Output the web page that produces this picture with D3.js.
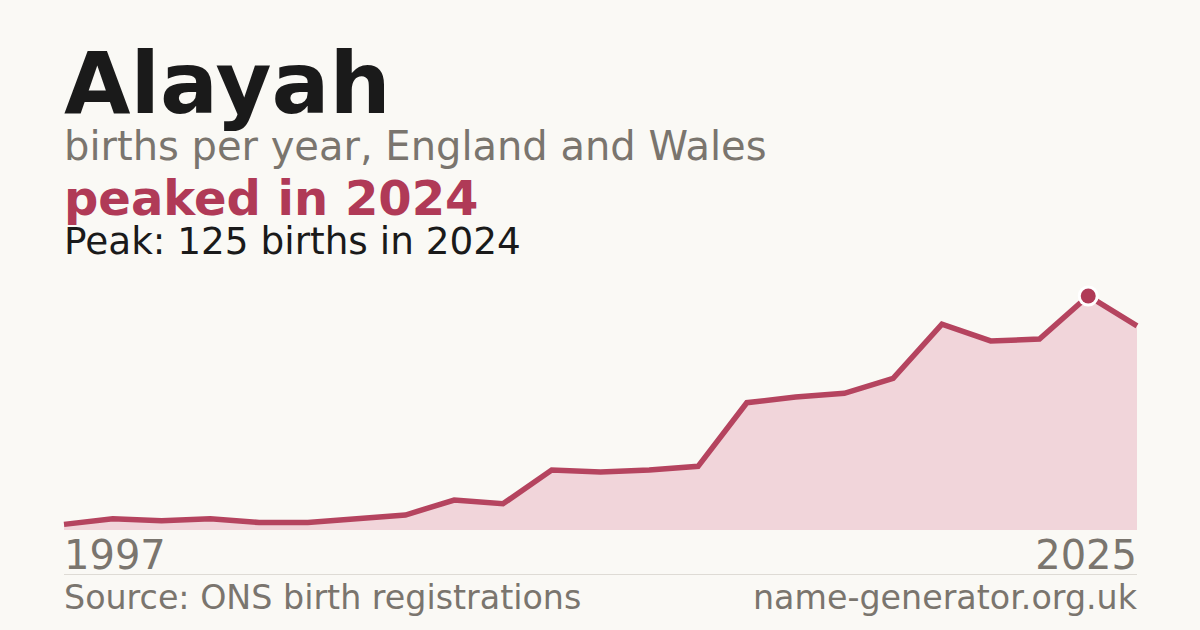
<!DOCTYPE html>
<html>
<head>
<meta charset="utf-8">
<script src="https://cdn.jsdelivr.net/npm/d3@7/dist/d3.min.js"></script>
<style>
    html, body { margin: 0; padding: 0; background: #faf9f5; }
    svg { display: block; font-family: "DejaVu Sans", sans-serif; }
</style>
</head>
<body>
<svg id="chart" width="1200" height="630"></svg>
<script>
var years = [1997, 2004, 2005, 2006, 2007, 2008, 2009, 2010, 2011, 2012, 2013, 2014,
    2015, 2016, 2017, 2018, 2019, 2020, 2021, 2022, 2023, 2024, 2025];
var births = [3, 6, 5, 6, 4, 4, 6, 8, 16, 14, 32, 31,
    32, 34, 68, 71, 73, 81, 110, 101, 102, 125, 109];
var axisLabels = ['1997', '2025'];

var width = 1200;
var height = 630;
var plotLeft = 64;
var plotRight = 1137;
var plotBase = 530;
var plotTop = 296;

var accent = '#b03a57';
var grey = '#7a756e';

var $svg = d3.select('#chart');

$svg.append('rect')
    .attr('width', width)
    .attr('height', height)
    .attr('fill', '#faf9f5');

var data = years.map(function (y, i) {
    return { year: y, value: births[i] };
});

var x = d3.scalePoint()
    .domain(years)
    .range([plotLeft, plotRight]);

var y = d3.scaleLinear()
    .domain([0, d3.max(births)])
    .range([plotBase, plotTop]);

// header text
$svg.append('text')
    .attr('x', plotLeft).attr('y', 113)
    .style('font-size', '86px').style('font-weight', 'bold')
    .attr('fill', '#1a1a1a')
    .text('Alayah');

$svg.append('text')
    .attr('x', plotLeft).attr('y', 160)
    .style('font-size', '40px')
    .attr('fill', grey)
    .text('births per year, England and Wales');

var peak = data.reduce(function (a, b) { return b.value > a.value ? b : a; });

$svg.append('text')
    .attr('x', plotLeft).attr('y', 215)
    .style('font-size', '48px').style('font-weight', 'bold')
    .attr('fill', accent)
    .text('peaked in ' + peak.year);

$svg.append('text')
    .attr('x', plotLeft).attr('y', 254)
    .style('font-size', '37.4px')
    .attr('fill', '#1a1a1a')
    .text('Peak: ' + peak.value + ' births in ' + peak.year);

// area + line
var area = d3.area()
    .x(function (d) { return x(d.year); })
    .y0(plotBase)
    .y1(function (d) { return y(d.value); });

var line = d3.line()
    .x(function (d) { return x(d.year); })
    .y(function (d) { return y(d.value); });

$svg.append('path')
    .datum(data)
    .attr('d', area)
    .attr('fill', '#f1d5da');

$svg.append('path')
    .datum(data)
    .attr('d', line)
    .attr('fill', 'none')
    .attr('stroke', '#b5445f')
    .attr('stroke-width', 5.5)
    .attr('stroke-linejoin', 'miter');

// peak marker, white ring first then the dot
$svg.append('circle')
    .attr('cx', x(peak.year))
    .attr('cy', y(peak.value))
    .attr('r', 10.5)
    .attr('fill', '#ffffff');

$svg.append('circle')
    .attr('cx', x(peak.year))
    .attr('cy', y(peak.value))
    .attr('r', 7.5)
    .attr('fill', accent);

// axis labels, first and last year only
$svg.selectAll('.year-label')
    .data(axisLabels)
    .enter()
    .append('text')
    .classed('year-label', true)
    .attr('x', function (d, i) { return i === 0 ? plotLeft : plotRight; })
    .attr('y', 569)
    .style('font-size', '40px')
    .style('text-anchor', function (d, i) { return i === 0 ? 'start' : 'end'; })
    .attr('fill', grey)
    .text(function (d) { return d; });

$svg.append('line')
    .attr('x1', plotLeft).attr('x2', plotRight)
    .attr('y1', 574.5).attr('y2', 574.5)
    .attr('stroke', '#dedbd5')
    .attr('stroke-width', 1);

// footer
$svg.append('text')
    .attr('x', plotLeft).attr('y', 609)
    .style('font-size', '33.3px')
    .attr('fill', grey)
    .text('Source: ONS birth registrations');

$svg.append('text')
    .attr('x', plotRight).attr('y', 609)
    .style('font-size', '33.3px')
    .style('text-anchor', 'end')
    .attr('fill', grey)
    .text('name-generator.org.uk');
</script>
</body>
</html>
